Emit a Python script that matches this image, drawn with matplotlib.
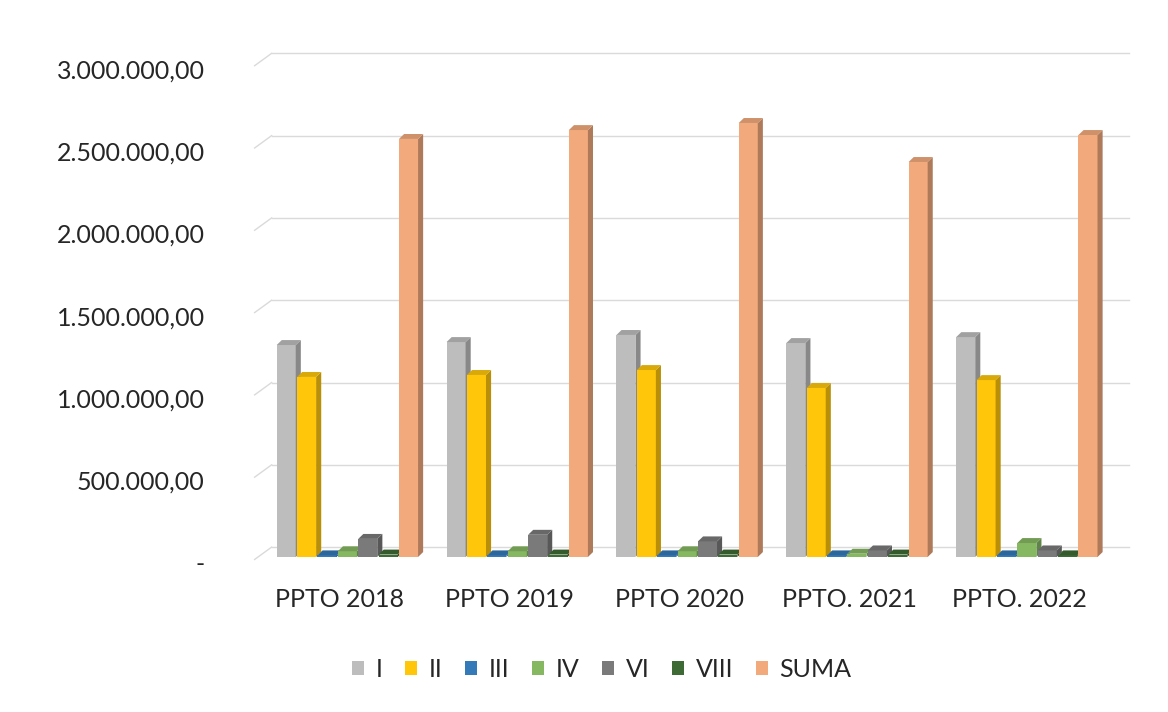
import matplotlib
matplotlib.use("Agg")
import matplotlib.pyplot as plt
import matplotlib.transforms as mtransforms
from matplotlib.patches import Polygon
from matplotlib.ticker import FuncFormatter
import numpy as np

CATEGORIES = ["PPTO 2018", "PPTO 2019", "PPTO 2020", "PPTO. 2021", "PPTO. 2022"]
SERIES = ["I", "II", "III", "IV", "VI", "VIII", "SUMA"]
VAL_I = [1288000, 1306000, 1349000, 1300000, 1336000]
VAL_II = [1094000, 1106000, 1136000, 1027000, 1075000]
VAL_III = [10000, 10000, 10000, 10000, 10000]
VAL_IV = [35000, 35000, 35000, 20000, 85000]
VAL_VI = [110000, 135000, 95000, 40000, 40000]
VAL_VIII = [15000, 15000, 15000, 15000, 10000]
VAL_SUMA = [2540000, 2594000, 2637000, 2400000, 2564000]
COLORS = ["#BDBDBD", "#FFC60A", "#3479B8", "#86B862", "#7A7A7A", "#3E6B35", "#F2AA7C"]
YTICKS = [0, 500000, 1000000, 1500000, 2000000, 2500000, 3000000]

plt.rcParams["font.family"] = ["Lato", "DejaVu Sans"]


def shade(color, f):
    c = np.array(matplotlib.colors.to_rgb(color))
    if f < 1:
        return tuple(c * f)
    return tuple(c + (1 - c) * (f - 1))


def fmt(v, _pos):
    if v == 0:
        return "-"
    return f"{int(round(v)):,}".replace(",", ".") + ",00"


def bar3d(ax, x, w, h, color, dx, dy):
    # front face, side face, top face
    ax.add_patch(Polygon([(x, 0), (x + w, 0), (x + w, h), (x, h)], closed=True,
                         facecolor=color, edgecolor="none", zorder=3))
    ax.add_patch(Polygon([(x + w, 0), (x + w + dx, dy), (x + w + dx, h + dy), (x + w, h)],
                         closed=True, facecolor=shade(color, 0.72), edgecolor="none", zorder=3))
    ax.add_patch(Polygon([(x, h), (x + w, h), (x + w + dx, h + dy), (x + dx, h + dy)],
                         closed=True, facecolor=shade(color, 0.85), edgecolor="none", zorder=3))


def main():
    data = [VAL_I, VAL_II, VAL_III, VAL_IV, VAL_VI, VAL_VIII, VAL_SUMA]
    fig = plt.figure(figsize=(11.68, 7.12), dpi=100)
    ax = fig.add_axes([0.218, 0.2177, 0.749, 0.6935])
    ax.set_xlim(-0.5, 4.65)
    ax.set_ylim(0, 3000000)

    pitch, width = 0.12, 0.112
    dx, dy = 0.03, 30000
    grid_dy = 60000
    xs = np.arange(len(CATEGORIES))
    for ci, xc in enumerate(xs):
        for si, vals in enumerate(data):
            left = xc - 0.37 + si * pitch
            bar3d(ax, left, width, vals[ci], COLORS[si], dx, dy)

    for v in YTICKS:
        ax.plot([-0.4, 4.65], [v + grid_dy, v + grid_dy], color="#DADADA", lw=1.0,
                zorder=1, clip_on=False)
        ax.plot([-0.5, -0.4], [v - 15000, v + grid_dy], color="#DADADA", lw=1.0,
                zorder=1, clip_on=False)

    ax.set_yticks(YTICKS)
    ax.yaxis.set_major_formatter(FuncFormatter(fmt))
    ax.set_xticks(xs)
    ax.set_xticklabels(CATEGORIES)
    ax.tick_params(axis="both", length=0, labelsize=18, colors="#262626")
    ax.tick_params(axis="x", pad=22)
    ax.tick_params(axis="y", pad=36)
    for s in ax.spines.values():
        s.set_visible(False)
    shift = mtransforms.ScaledTranslation(0, -4 / 72, fig.dpi_scale_trans)
    for lab in ax.get_yticklabels():
        lab.set_transform(lab.get_transform() + shift)

    handles = [plt.Rectangle((0, 0), 1, 1, facecolor=c, edgecolor="none") for c in COLORS]
    fig.legend(handles, SERIES, loc="center", bbox_to_anchor=(0.515, 0.06), ncol=7,
               frameon=False, fontsize=18, handlelength=0.5, handleheight=0.5,
               handletextpad=0.45, columnspacing=0.9, labelcolor="#262626")

    fig.savefig("out.png", dpi=100)
    plt.close(fig)


if __name__ == "__main__":
    main()
